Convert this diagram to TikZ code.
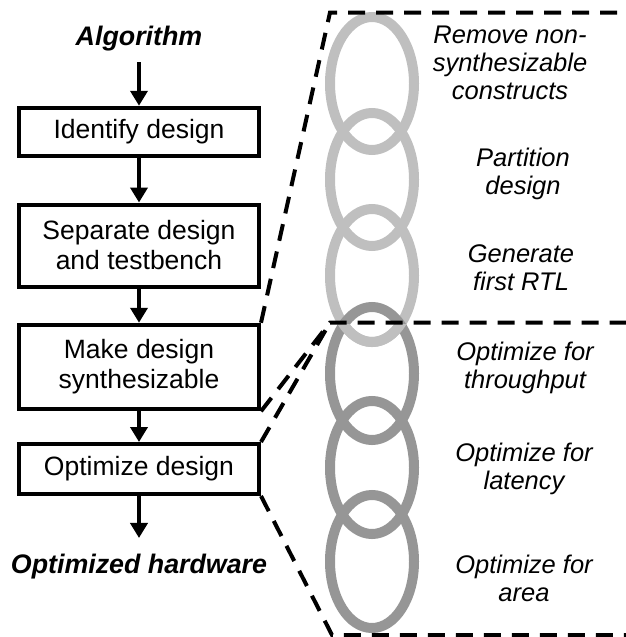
\documentclass[tikz,border=0pt]{standalone}
\usepackage{fontspec}
\setmainfont{Liberation Sans}
\usetikzlibrary{arrows.meta,positioning}

\begin{document}
\begin{tikzpicture}[x=1pt,y=-1pt,
    stagebox/.style={draw=black,line width=4pt,minimum width=240pt,inner sep=0pt,align=center,
      font=\fontsize{26.5}{30}\selectfont},
    flow/.style={line width=4pt,-{Triangle[length=15pt,width=17pt]}},
    zoomline/.style={line width=4pt,dash pattern=on 17pt off 11pt},
    steptext/.style={align=center,font=\fontsize{25.5}{28}\selectfont\itshape},
    endtext/.style={font=\fontsize{26.8}{30}\selectfont\bfseries\itshape},
    firstlink/.style={draw=black!25,line width=10pt},
    secondlink/.style={draw=black!41,line width=10pt}]

    \useasboundingbox (0,0) rectangle (625,637);

    % flow on the left
    \node (algo)     [endtext] at (139,39) {Algorithm};
    \node (identify) [stagebox,minimum height=48.5pt] at (139,132) {Identify design};
    \node (separate) [stagebox,minimum height=82pt] at (139,245.5) {Separate design\\and testbench};
    \node (make)     [stagebox,minimum height=84.5pt] at (139,367) {Make design\\synthesizable};
    \node (optim)    [stagebox,minimum height=50pt] at (139,469) {Optimize design};
    \node (hw)       [endtext] at (139,567) {Optimized hardware};

    \draw [flow,shorten <=7pt] (algo) -- (identify);
    \draw [flow] (identify) -- (separate);
    \draw [flow] (separate) -- (make);
    \draw [flow] (make) -- (optim);
    \draw [flow,shorten >=13pt] (optim) -- (hw);

    % the chain
    \foreach \cy in {83.5,179.5,275.5}
      \draw [firstlink] (372,\cy) ellipse [x radius=42pt,y radius=66.5pt];
    \foreach \cy in {373.5,467.5,561.5}
      \draw [secondlink] (372,\cy) ellipse [x radius=42pt,y radius=66.5pt];
    \begin{scope}
      \clip (300,324.5) rectangle (450,360);
      \draw [firstlink] (372,275.5) ellipse [x radius=42pt,y radius=66.5pt];
    \end{scope}

    \node (remove)   [steptext] at (510,62.5) {Remove non-\\synthesizable\\constructs};
    \node (part)     [steptext] at (523,173.5) {Partition\\design};
    \node (rtl)      [steptext] at (521,267.5) {Generate\\first RTL};
    \node (thru)     [steptext] at (525,367.5) {Optimize for\\throughput};
    \node (lat)      [steptext] at (524,468.5) {Optimize for\\latency};
    \node (area)     [steptext] at (524,578.5) {Optimize for\\area};

    % zoom lines
    \coordinate (topcorner) at (330,12.5);
    \coordinate (midcorner) at (330,322.5);
    \coordinate (lowcorner) at (332,635);
    \coordinate (topend) at (632,12.5);
    \coordinate (midend) at (632,322.5);
    \coordinate (lowend) at (632,635);

    \draw [zoomline] (make.north east) -- (topcorner) -- (topend);
    \draw [zoomline] (make.south east) -- (midcorner) -- (midend);
    \draw [zoomline] (optim.north east) -- (midcorner);
    \draw [zoomline] (optim.south east) -- (lowcorner) -- (lowend);

\end{tikzpicture}
\end{document}
